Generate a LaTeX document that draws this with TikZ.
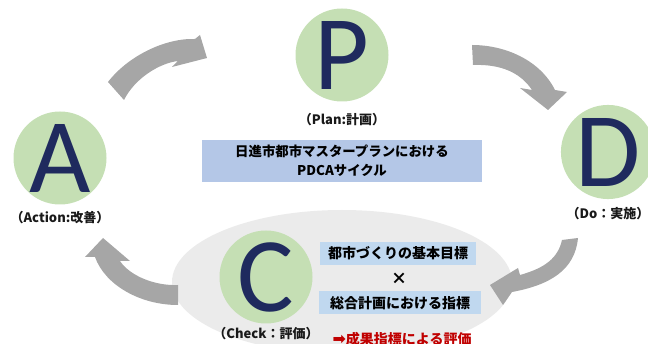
\documentclass[tikz,border=0pt]{standalone}
\usepackage{fontspec}
\setmainfont{Noto Sans CJK JP}
\newfontfamily\letterfont{Carlito}
\newfontfamily\symfont{DejaVu Sans}
\definecolor{circlegreen}{HTML}{C5DFB4}
\definecolor{letterblue}{HTML}{1F2A5E}
\definecolor{titleblue}{HTML}{B4C7E7}
\definecolor{boxblue}{HTML}{C0D8EF}
\definecolor{arrowgray}{HTML}{A6A6A6}
\definecolor{checkgray}{HTML}{EBEBEB}
\definecolor{resultred}{HTML}{C00000}
\begin{document}
\begin{tikzpicture}[x=1pt, y=-1pt,
		phase/.style={circle, fill=circlegreen, minimum size=93pt, inner sep=0pt, text=letterblue, font=\letterfont\fontsize{106}{106}\selectfont},
		every label/.style={text=black!90, font=\bfseries\fontsize{13}{15}\selectfont},
		goalbox/.style={fill=boxblue, minimum height=23pt, inner sep=0pt, font=\bfseries\fontsize{14}{16}\selectfont}]

				\clip (0,0) rectangle (648,344);
				\fill[checkgray] (342,282) ellipse [x radius=170pt, y radius=72pt];

				\node[phase] (plan) at (342,55) [label={[label distance=8pt]below:{（Plan:計画）}}] {P};
				\node[phase] (do) at (608,152) [label={[label distance=4pt]below:{（Do：実施）}}] {D};
				\node[phase] (check) at (266,277) [label={[label distance=0pt]below:{（Check：評価）}}] {C};
				\node[phase] (action) at (60,158) [label={[label distance=3pt]below:{（Action:改善）}}] {A};

				\node[fill=titleblue, minimum width=280pt, minimum height=42pt, align=center,
					font=\bfseries\fontsize{13.4}{19}\selectfont] (title) at (342,161) {日進市都市マスタープランにおける\\PDCAサイクル};

				\node[goalbox, minimum width=156pt] (goal) at (398,253.5) {都市づくりの基本目標};
				\node[font=\bfseries\fontsize{16}{16}\selectfont] (times) at (399,279) {×};
				\node[goalbox, minimum width=162pt] (index) at (400,303) {総合計画における指標};
				\node[text=resultred, font=\bfseries\fontsize{14}{16}\selectfont] (result) at (402,339) {{\symfont\fontsize{16}{16}\selectfont ➡}成果指標による評価};

				% A -> P
				\fill[arrowgray] (108,82) .. controls (128,56) and (165,38) .. (195,39) -- (200,35) -- (207,58) -- (172,67)
					-- (178,61) .. controls (160,63) and (135,78) .. (124,100) -- cycle;
				% P -> D
				\fill[arrowgray] (472,45) .. controls (505,45) and (540,60) .. (555,90) -- (567,92) -- (548,110) -- (520,88)
					-- (532,90) .. controls (520,72) and (500,64) .. (473,65) -- cycle;
				% D -> C
				\fill[arrowgray] (562,240) -- (578,238) .. controls (575,270) and (550,285) .. (512,292) -- (503,305) -- (490,285)
					-- (518,268) -- (520,275) .. controls (545,268) and (558,258) .. (562,240) -- cycle;
				% C -> A
				\fill[arrowgray] (178,285) .. controls (155,286) and (130,276) .. (120,261) -- (130,261) -- (103,238) -- (85,257)
					-- (95,257) .. controls (105,285) and (140,305) .. (178,305) -- cycle;
			\end{tikzpicture}
\end{document}
